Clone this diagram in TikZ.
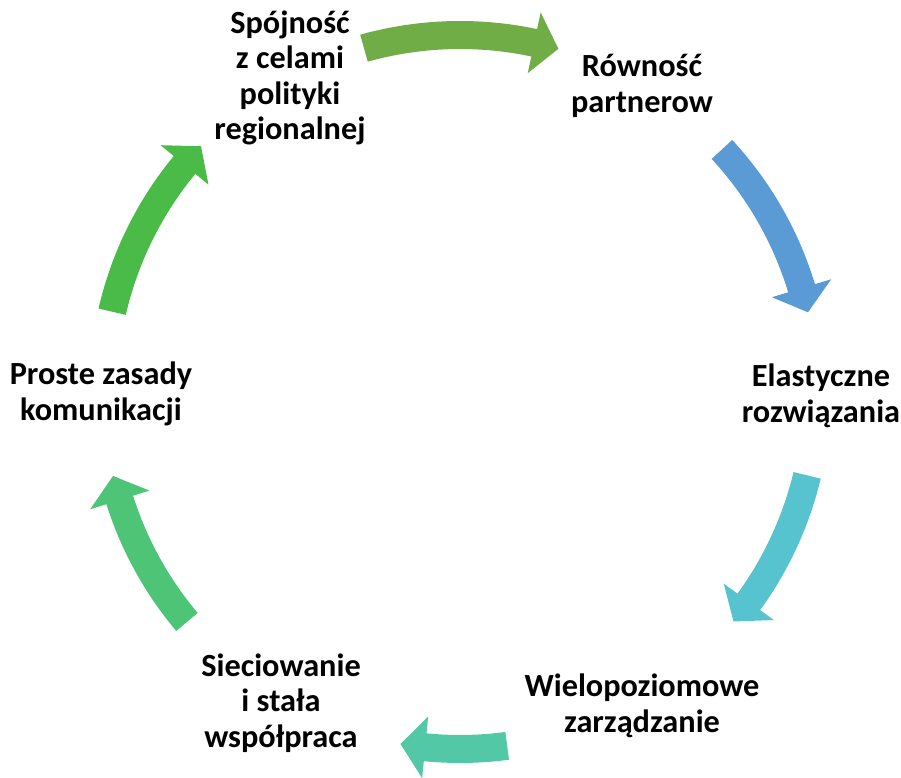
\documentclass[tikz,border=0pt]{standalone}
\usepackage{fontspec}
\setmainfont{Carlito}
\definecolor{arrA}{HTML}{70AD47}
\definecolor{arrB}{HTML}{5B9BD5}
\definecolor{arrC}{HTML}{56C3CF}
\definecolor{arrD}{HTML}{53C8A6}
\definecolor{arrE}{HTML}{4DC476}
\definecolor{arrF}{HTML}{4BBB48}
\tikzset{
  label text/.style={align=center,inner sep=0pt,font=\bfseries\fontsize{32.3}{35.5}\selectfont},
}
\begin{document}
\begin{tikzpicture}[x=1pt,y=1pt]
\useasboundingbox (-460,-386) rectangle (441,392);
% curved arrows, clockwise: tail angle / tip angle / colour
\foreach \a/\b/\c in {105.6/74/arrA, 42.8/12.9/arrB, -13.5/-40/arrC, -82.4/-99.6/arrD, -139.9/-166.4/arrE, 167/136.5/arrF}
  \fill[\c] (\a:371) arc[start angle=\a, end angle=\b+4, radius=371] -- ({\b+4}:388) -- (\b:357) -- ({\b+4}:326) -- ({\b+4}:343) arc[start angle=\b+4, end angle=\a, radius=343] -- cycle;
\node[label text] (spojnosc) at (-170,314) {Spójność\\z celami\\polityki\\regionalnej};
\node[label text] (rownosc) at (182,306) {Równość\\partnerow};
\node[label text] (elastyczne) at (361,-4) {Elastyczne\\rozwiązania};
\node[label text] (wielopoziomowe) at (182,-314) {Wielopoziomowe\\zarządzanie};
\node[label text] (sieciowanie) at (-179,-311) {Sieciowanie\\i stała\\współpraca};
\node[label text] (proste) at (-359,-2) {Proste zasady\\komunikacji};
\end{tikzpicture}
\end{document}
